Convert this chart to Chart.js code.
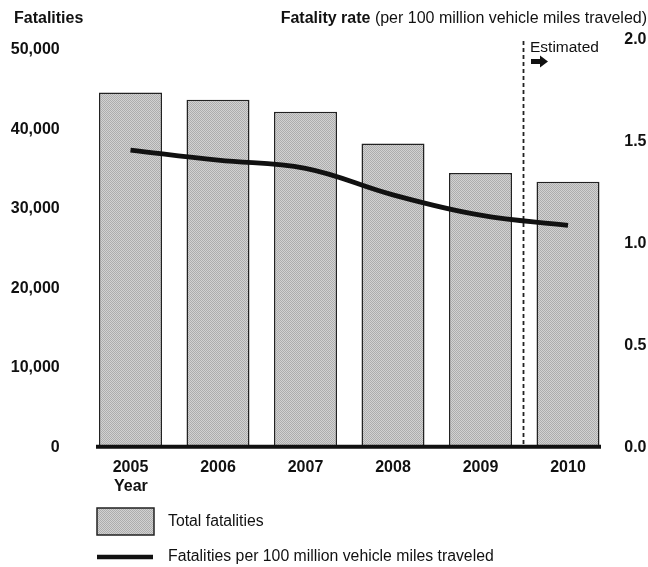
<!DOCTYPE html>
<html>
<head>
<meta charset="utf-8">
<style>
html,body{margin:0;padding:0;background:#fff;}
#wrap{width:648px;height:567px;position:relative;}
</style>
<script src="https://cdn.jsdelivr.net/npm/chart.js@4/dist/chart.umd.min.js"></script>
</head>
<body>
<div id="wrap"><canvas id="c" width="648" height="567"></canvas></div>
<script>
// ---- data ----
const years = ['2005', '2006', '2007', '2008', '2009', '2010'];
const totalFatalities = [44600, 43700, 42200, 38200, 34500, 33400];
const fatalityRate = [1.46, 1.41, 1.37, 1.24, 1.14, 1.09];
const leftTicks = [0, 10000, 20000, 30000, 40000, 50000];
const rightTicks = [0.0, 0.5, 1.0, 1.5, 2.0];
const estimatedFrom = '2010';

const FONT = '"Liberation Sans", Arial, Helvetica, sans-serif';
const INK = '#111';

const canvas = document.getElementById('c');
const ctx0 = canvas.getContext('2d');
function makePattern() {
  const p = document.createElement('canvas');
  p.width = 2; p.height = 2;
  const g = p.getContext('2d');
  g.fillStyle = '#d2d2d2'; g.fillRect(0, 0, 2, 2);
  g.fillStyle = '#adadad'; g.fillRect(0, 0, 1, 1); g.fillRect(1, 1, 1, 1);
  return ctx0.createPattern(p, 'repeat');
}
const barFill = makePattern();

const decor = {
  id: 'decor',
  beforeDatasetsDraw(chart) {
    const ctx = chart.ctx;
    const meta = chart.getDatasetMeta(1);
    const i = years.indexOf(estimatedFrom);
    const xd = Math.round((meta.data[i - 1].x + meta.data[i].x) / 2) - 0.5;
    const yb = chart.scales.yL.getPixelForValue(0);
    ctx.save();
    ctx.strokeStyle = '#222';
    ctx.lineWidth = 1.8;
    ctx.setLineDash([4, 3]);
    ctx.beginPath();
    ctx.moveTo(xd, 41);
    ctx.lineTo(xd, yb);
    ctx.stroke();
    ctx.restore();
  },
  afterDatasetsDraw(chart) {
    const ctx = chart.ctx;
    const meta = chart.getDatasetMeta(1);
    const first = meta.data[0], last = meta.data[meta.data.length - 1];
    const yb = chart.scales.yL.getPixelForValue(0);
    ctx.save();
    ctx.strokeStyle = INK;
    ctx.lineWidth = 4;
    ctx.beginPath();
    ctx.moveTo(first.x - first.width / 2 - 3, yb - 0.8);
    ctx.lineTo(last.x + last.width / 2 + 1.5, yb - 0.8);
    ctx.stroke();
    ctx.restore();
  },
  afterDraw(chart) {
    const ctx = chart.ctx;
    const meta = chart.getDatasetMeta(1);
    const i = years.indexOf(estimatedFrom);
    const xd = Math.round((meta.data[i - 1].x + meta.data[i].x) / 2);
    ctx.save();
    ctx.fillStyle = INK;
    ctx.textBaseline = 'middle';
    // axis titles
    ctx.font = 'bold 16px ' + FONT;
    ctx.textAlign = 'left';
    ctx.fillText('Fatalities', 14, 19);
    const regPart = ' (per 100 million vehicle miles traveled)';
    ctx.font = '16px ' + FONT;
    const wReg = ctx.measureText(regPart).width;
    ctx.textAlign = 'right';
    ctx.fillText(regPart, 647, 19);
    ctx.font = 'bold 16px ' + FONT;
    ctx.fillText('Fatality rate', 647 - wReg, 19);
    // Estimated label + arrow
    ctx.textAlign = 'left';
    ctx.font = '15.5px ' + FONT;
    ctx.fillText('Estimated', xd + 6, 47.5);
    const ax = xd + 7, ay = 61.5;
    ctx.beginPath();
    ctx.moveTo(ax, ay - 2.5);
    ctx.lineTo(ax + 9, ay - 2.5);
    ctx.lineTo(ax + 9, ay - 6);
    ctx.lineTo(ax + 17, ay);
    ctx.lineTo(ax + 9, ay + 6);
    ctx.lineTo(ax + 9, ay + 2.5);
    ctx.lineTo(ax, ay + 2.5);
    ctx.closePath();
    ctx.fill();
    // Year label
    ctx.font = 'bold 16px ' + FONT;
    ctx.fillText('Year', 114, 487);
    // legend
    const lx = 97;
    ctx.fillStyle = barFill;
    ctx.fillRect(lx, 508, 57, 27);
    ctx.strokeStyle = '#222';
    ctx.lineWidth = 1.5;
    ctx.strokeRect(lx, 508, 57, 27);
    ctx.fillStyle = INK;
    ctx.font = '15.8px ' + FONT;
    ctx.fillText('Total fatalities', 168, 522);
    ctx.strokeStyle = INK;
    ctx.lineWidth = 4.5;
    ctx.beginPath();
    ctx.moveTo(lx, 557);
    ctx.lineTo(lx + 56, 557);
    ctx.stroke();
    ctx.fillText('Fatalities per 100 million vehicle miles traveled', 168, 557);
    ctx.restore();
  }
};

const tickFont = { family: FONT, size: 16, weight: 'bold' };

new Chart(canvas, {
  type: 'bar',
  data: {
    labels: years,
    datasets: [
      {
        type: 'line',
        label: 'Fatalities per 100 million vehicle miles traveled',
        data: fatalityRate,
        yAxisID: 'yR',
        borderColor: INK,
        borderWidth: 4.8,
        pointRadius: 0,
        tension: 0.4,
        fill: false,
        order: 0
      },
      {
        type: 'bar',
        label: 'Total fatalities',
        data: totalFatalities,
        yAxisID: 'yL',
        backgroundColor: barFill,
        borderColor: '#222',
        borderWidth: 1.5,
        borderSkipped: 'bottom',
        barPercentage: 0.72,
        categoryPercentage: 1,
        order: 1
      }
    ]
  },
  options: {
    responsive: false,
    animation: false,
    devicePixelRatio: 1,
    layout: { padding: { top: 40, left: 0, right: 0, bottom: 0 } },
    plugins: { legend: { display: false }, tooltip: { enabled: false } },
    scales: {
      x: {
        grid: { display: false, drawTicks: false },
        border: { display: false },
        ticks: { font: tickFont, color: INK, padding: 10, maxRotation: 0 },
        afterFit(s) { s.height = 119.5; }
      },
      yL: {
        position: 'left',
        min: 0,
        max: 51200,
        grid: { display: false, drawTicks: false },
        border: { display: false },
        afterBuildTicks(s) { s.ticks = leftTicks.map(v => ({ value: v })); },
        ticks: {
          font: tickFont, color: INK, padding: 27,
          callback: v => v.toLocaleString('en-US')
        },
        afterFit(s) { s.width = 86.75; }
      },
      yR: {
        position: 'right',
        min: 0,
        max: 2,
        grid: { display: false, drawTicks: false },
        border: { display: false },
        afterBuildTicks(s) { s.ticks = rightTicks.map(v => ({ value: v })); },
        ticks: {
          font: tickFont, color: INK, padding: 12.5,
          callback: v => Number(v).toFixed(1)
        },
        afterFit(s) { s.width = 36.25; }
      }
    }
  },
  plugins: [decor]
});
</script>
</body>
</html>
